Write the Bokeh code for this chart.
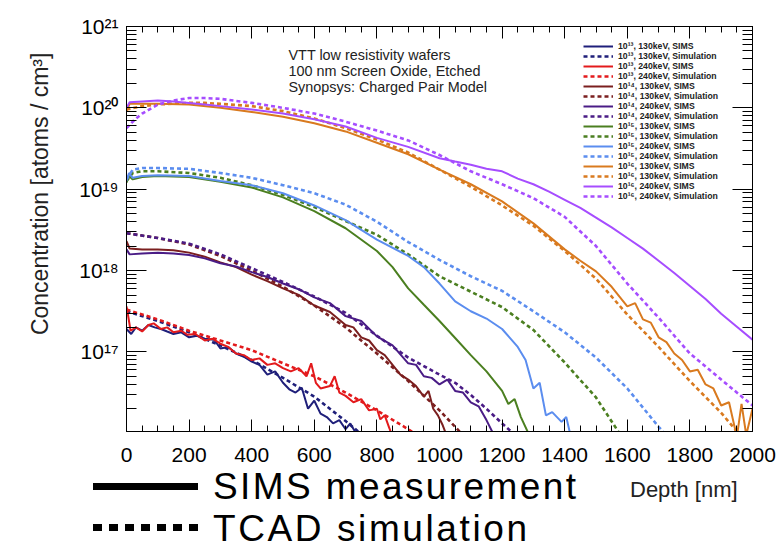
from bokeh.plotting import figure
from bokeh.layouts import column
from bokeh.models import (Range1d, LogTicker, SingleIntervalTicker, LinearAxis, LogAxis, Div,
                          Label, Legend, LegendItem, CustomJSTickFormatter, ColumnDataSource)
from bokeh.embed import file_html
from bokeh.resources import INLINE

# ---------------- data (depth in nm, concentration in atoms/cm^3) ----------------
depth_13_130_sims = [0, 15, 30, 50, 70, 90, 110, 130, 150, 175, 200, 225, 250, 280, 300, 325, 350, 375,
                     400, 425, 450, 475, 500, 520, 540, 560, 580, 600, 620, 640, 660, 680, 700, 715, 730, 745]
conc_13_130_sims = [1.91e17, 1.66e17, 2.0e17, 1.82e17, 2.14e17, 2.0e17, 1.91e17, 1.78e17, 1.66e17, 1.74e17,
                    1.51e17, 1.58e17, 1.45e17, 1.41e17, 1.10e17, 1.15e17, 9.55e16, 8.71e16, 7.59e16, 6.92e16,
                    5.25e16, 5.75e16, 4.17e16, 3.47e16, 3.16e16, 3.63e16, 2.0e16, 2.51e16, 1.74e16, 1.58e16,
                    1.32e16, 1.45e16, 1.12e16, 1.32e16, 1.05e16, 8.0e15]
depth_13_130_sim = [0, 100, 200, 300, 400, 500, 600, 700, 760]
conc_13_130_sim = [3.16e17, 2.40e17, 1.74e17, 1.20e17, 7.94e16, 4.79e16, 2.82e16, 1.41e16, 9.1e15]

depth_13_240_sims = [0, 5, 13, 30, 50, 70, 87, 110, 130, 150, 175, 195, 220, 250, 275, 300, 325, 350, 375, 400,
                     425, 450, 475, 500, 525, 550, 575, 590, 605, 620, 650, 665, 680, 700, 725, 750, 775, 800,
                     811, 825, 840, 850]
conc_13_240_sims = [3.63e17, 2.82e17, 1.82e17, 2.0e17, 1.78e17, 2.14e17, 2.24e17, 1.91e17, 2.0e17, 1.74e17,
                    1.82e17, 1.62e17, 1.66e17, 1.38e17, 1.45e17, 1.26e17, 1.15e17, 9.55e16, 9.12e16, 7.94e16,
                    8.32e16, 6.92e16, 7.24e16, 6.31e16, 5.75e16, 6.31e16, 5.01e16, 7.24e16, 4.17e16, 3.55e16,
                    3.80e16, 5.01e16, 3.16e16, 2.88e16, 2.40e16, 2.63e16, 1.91e16, 2.0e16, 1.48e16, 1.66e16,
                    1.15e16, 8.9e15]
depth_13_240_sim = [0, 100, 200, 300, 400, 500, 600, 700, 800, 900, 930]
conc_13_240_sim = [3.31e17, 2.51e17, 1.82e17, 1.38e17, 1.05e17, 7.24e16, 5.01e16, 3.16e16, 1.91e16, 1.12e16, 9.3e15]

depth_14_130_sims = [0, 10, 50, 100, 150, 200, 250, 300, 350, 400, 450, 500, 550, 600, 650, 700, 725, 750, 775,
                     800, 825, 850, 875, 900, 925, 950, 965, 980, 995, 1010, 1025]
conc_14_130_sims = [2.29e18, 1.86e18, 1.82e18, 1.82e18, 1.78e18, 1.66e18, 1.48e18, 1.26e18, 1.10e18, 8.91e17,
                    7.41e17, 6.03e17, 5.01e17, 3.72e17, 3.09e17, 2.14e17, 2.0e17, 1.51e17, 1.38e17, 1.05e17,
                    9.12e16, 6.92e16, 5.25e16, 4.57e16, 3.80e16, 2.82e16, 3.31e16, 2.0e16, 1.66e16, 1.26e16, 8.9e15]
depth_14_130_sim = [0, 100, 200, 300, 400, 500, 600, 700, 800, 900, 1000, 1075]
conc_14_130_sim = [2.88e18, 2.51e18, 2.09e18, 1.51e18, 1.00e18, 6.31e17, 3.72e17, 2.0e17, 9.55e16, 4.37e16,
                   1.91e16, 9.5e15]

depth_14_240_sims = [0, 10, 50, 100, 150, 200, 250, 300, 350, 400, 450, 500, 550, 600, 650, 700, 750, 800, 850,
                     900, 925, 950, 975, 1000, 1025, 1050, 1075, 1100, 1125, 1150, 1175]
conc_14_240_sims = [1.82e18, 1.58e18, 1.62e18, 1.66e18, 1.62e18, 1.55e18, 1.41e18, 1.23e18, 1.12e18, 9.55e17,
                    8.32e17, 6.92e17, 5.89e17, 4.68e17, 3.98e17, 2.75e17, 2.40e17, 1.55e17, 1.20e17, 7.24e16,
                    6.92e16, 5.01e16, 4.79e16, 3.98e16, 4.57e16, 3.31e16, 3.16e16, 2.40e16, 2.14e16, 1.45e16, 9.3e15]
depth_14_240_sim = [0, 100, 200, 300, 400, 500, 600, 700, 800, 900, 1000, 1050, 1100, 1150, 1200, 1250]
conc_14_240_sim = [2.88e18, 2.51e18, 2.14e18, 1.58e18, 1.07e18, 7.24e17, 4.79e17, 3.02e17, 1.58e17, 8.51e16,
                   5.25e16, 4.17e16, 2.95e16, 2.0e16, 1.32e16, 8.9e15]

depth_15_130_sims = [0, 8, 20, 50, 100, 200, 300, 400, 500, 600, 700, 800, 850, 900, 950, 1000, 1050, 1100,
                     1150, 1200, 1220, 1240, 1260, 1290]
conc_15_130_sims = [1.20e19, 1.45e19, 1.32e19, 1.41e19, 1.45e19, 1.41e19, 1.23e19, 1.05e19, 7.94e18, 5.37e18,
                    3.31e18, 1.74e18, 1.10e18, 6.03e17, 3.80e17, 2.40e17, 1.48e17, 9.12e16, 5.75e16, 3.31e16,
                    2.29e16, 2.63e16, 1.58e16, 8.9e15]
depth_15_130_sim = [0, 20, 50, 100, 200, 300, 400, 500, 600, 700, 800, 900, 1000, 1100, 1200, 1300, 1400, 1500, 1580]
conc_15_130_sim = [1.26e19, 1.58e19, 1.66e19, 1.66e19, 1.58e19, 1.38e19, 1.12e19, 8.51e18, 6.03e18, 4.07e18,
                   2.75e18, 1.58e18, 8.51e17, 5.50e17, 3.55e17, 1.86e17, 7.41e16, 2.75e16, 9.3e15]

depth_15_240_sims = [0, 8, 20, 50, 100, 200, 300, 400, 500, 600, 700, 800, 900, 950, 1000, 1050, 1100, 1150,
                     1200, 1250, 1275, 1300, 1320, 1340, 1360, 1390, 1405, 1420]
conc_15_240_sims = [1.26e19, 1.58e19, 1.38e19, 1.45e19, 1.48e19, 1.45e19, 1.26e19, 1.12e19, 8.91e18, 6.31e18,
                    4.17e18, 2.40e18, 1.51e18, 1.10e18, 6.92e17, 4.17e17, 3.16e17, 2.57e17, 1.91e17, 1.15e17,
                    7.94e16, 3.55e16, 4.17e16, 1.66e16, 1.82e16, 1.38e16, 1.58e16, 8.9e15]
depth_15_240_sim = [0, 20, 50, 100, 200, 300, 400, 500, 600, 700, 800, 900, 1000, 1100, 1200, 1300, 1400, 1500,
                    1600, 1700, 1730]
conc_15_240_sim = [1.32e19, 1.74e19, 1.82e19, 1.82e19, 1.78e19, 1.58e19, 1.38e19, 1.12e19, 8.91e18, 6.46e18,
                   3.98e18, 2.24e18, 1.35e18, 8.51e17, 5.62e17, 3.16e17, 1.74e17, 8.51e16, 3.55e16, 1.20e16, 8.9e15]

depth_16_130_sims = [0, 10, 50, 100, 200, 300, 400, 500, 600, 700, 800, 900, 1000, 1100, 1200, 1300, 1400, 1450,
                     1500, 1550, 1600, 1625, 1650, 1675, 1700, 1725, 1750, 1775, 1800, 1825, 1850, 1875, 1900,
                     1925, 1950, 1965, 1980, 2000]
conc_16_130_sims = [9.12e19, 1.12e20, 1.12e20, 1.12e20, 1.10e20, 1.00e20, 8.91e19, 7.76e19, 6.46e19, 5.13e19,
                    3.72e19, 2.69e19, 1.74e19, 1.15e19, 7.08e18, 3.80e18, 1.82e18, 1.32e18, 9.77e17, 6.31e17,
                    3.63e17, 3.98e17, 2.51e17, 2.29e17, 1.51e17, 1.32e17, 9.55e16, 7.94e16, 5.75e16, 6.03e16,
                    3.98e16, 3.55e16, 2.19e16, 2.40e16, 9.0e15, 2.29e16, 9.5e15, 2.0e16]
depth_16_130_sim = [0, 50, 100, 200, 250, 300, 400, 500, 600, 700, 800, 900, 1000, 1100, 1200, 1300, 1400, 1500,
                    1600, 1700, 1800, 1900, 1960]
conc_16_130_sim = [9.55e19, 1.05e20, 1.10e20, 1.15e20, 1.15e20, 1.12e20, 1.05e20, 9.12e19, 7.41e19, 5.62e19,
                   4.07e19, 2.82e19, 1.74e19, 1.07e19, 6.31e18, 3.55e18, 1.74e18, 7.94e17, 2.88e17, 1.15e17,
                   4.37e16, 1.78e16, 9.5e15]

depth_16_240_sims = [0, 10, 50, 100, 150, 200, 250, 300, 400, 500, 600, 700, 800, 900, 1000, 1050, 1100, 1150,
                     1200, 1250, 1300, 1350, 1400, 1450, 1500, 1550, 1600, 1650, 1700, 1750, 1800, 1850, 1900,
                     1950, 2000]
conc_16_240_sims = [1.00e20, 1.17e20, 1.20e20, 1.23e20, 1.20e20, 1.15e20, 1.10e20, 1.05e20, 9.55e19, 8.51e19,
                    7.24e19, 5.89e19, 4.27e19, 3.31e19, 2.40e19, 2.19e19, 2.0e19, 1.78e19, 1.66e19, 1.35e19,
                    1.15e19, 9.33e18, 7.41e18, 5.89e18, 4.47e18, 3.39e18, 2.51e18, 1.86e18, 1.32e18, 9.33e17,
                    6.46e17, 4.47e17, 2.95e17, 2.04e17, 1.41e17]
depth_16_240_sim = [0, 25, 50, 100, 150, 200, 250, 300, 400, 500, 600, 700, 800, 900, 1000, 1100, 1200, 1300,
                    1400, 1500, 1600, 1700, 1800, 1900, 2000]
conc_16_240_sim = [5.62e19, 7.08e19, 8.51e19, 1.10e20, 1.23e20, 1.32e20, 1.32e20, 1.29e20, 1.15e20, 1.00e20,
                   8.51e19, 6.76e19, 5.25e19, 3.98e19, 2.63e19, 1.66e19, 1.15e19, 7.76e18, 4.57e18, 2.0e18,
                   6.92e17, 2.63e17, 9.55e16, 4.57e16, 2.19e16]

series_labels = ["10¹³, 130keV, SIMS", "10¹³, 130keV, Simulation",
                 "10¹³, 240keV, SIMS", "10¹³, 240keV, Simulation",
                 "10¹⁴, 130keV, SIMS", "10¹⁴, 130keV, Simulation",
                 "10¹⁴, 240keV, SIMS", "10¹⁴, 240keV, Simulation",
                 "10¹⁵, 130keV, SIMS", "10¹⁵, 130keV, Simulation",
                 "10¹⁵, 240keV, SIMS", "10¹⁵, 240keV, Simulation",
                 "10¹⁶, 130keV, SIMS", "10¹⁶, 130keV, Simulation",
                 "10¹⁶, 240keV, SIMS", "10¹⁶, 240keV, Simulation"]
series_depths = [depth_13_130_sims, depth_13_130_sim, depth_13_240_sims, depth_13_240_sim,
                 depth_14_130_sims, depth_14_130_sim, depth_14_240_sims, depth_14_240_sim,
                 depth_15_130_sims, depth_15_130_sim, depth_15_240_sims, depth_15_240_sim,
                 depth_16_130_sims, depth_16_130_sim, depth_16_240_sims, depth_16_240_sim]
series_concs = [conc_13_130_sims, conc_13_130_sim, conc_13_240_sims, conc_13_240_sim,
                conc_14_130_sims, conc_14_130_sim, conc_14_240_sims, conc_14_240_sim,
                conc_15_130_sims, conc_15_130_sim, conc_15_240_sims, conc_15_240_sim,
                conc_16_130_sims, conc_16_130_sim, conc_16_240_sims, conc_16_240_sim]
group_colors = ["#1f1f7a", "#e31a1c", "#7b1f1f", "#4a1c86", "#4b7f20", "#5b8def", "#d97a1f", "#a64dff"]

annotation_lines = ["VTT low resistivity wafers", "100 nm Screen Oxide, Etched", "Synopsys: Charged Pair Model"]
y_title = "Concentration [atoms / cm³]"
x_title = "Depth [nm]"
key_labels = ["SIMS measurement", "TCAD simulation"]

FONT = "Liberation Sans"

# ---------------- main figure ----------------
p = figure(width=784, height=471, output_backend="svg", toolbar_location=None,
           y_axis_type="log", x_range=Range1d(0, 2000), y_range=Range1d(1.05e16, 1e21),
           min_border_left=126, min_border_right=32, min_border_top=26, min_border_bottom=40)
p.xgrid.visible = False
p.ygrid.visible = False
p.outline_line_color = "black"
p.outline_line_width = 1

sup = CustomJSTickFormatter(code="""
const s = {"0":"\u2070","1":"\u00b9","2":"\u00b2","3":"\u00b3","4":"\u2074","5":"\u2075","6":"\u2076","7":"\u2077","8":"\u2078","9":"\u2079","-":"\u207b"};
const e = Math.round(Math.log10(tick));
return "10" + String(e).split("").map(c => s[c]).join("");
""")
blank = CustomJSTickFormatter(code="return '';")

for ax in p.xaxis:
    ax.ticker = SingleIntervalTicker(interval=200, num_minor_ticks=4)
    ax.major_tick_in = 12
    ax.major_tick_out = 0
    ax.minor_tick_in = 6
    ax.minor_tick_out = 0
    ax.major_label_text_font = FONT
    ax.major_label_text_font_size = "21px"
    ax.major_label_text_color = "black"
    ax.major_label_standoff = 16
    ax.axis_line_color = "black"

for ax in p.yaxis:
    ax.ticker = LogTicker(num_minor_ticks=10)
    ax.formatter = sup
    ax.major_tick_in = 20
    ax.major_tick_out = 0
    ax.minor_tick_in = 10
    ax.minor_tick_out = 0
    ax.major_label_text_font = FONT
    ax.major_label_text_font_size = "21px"
    ax.major_label_text_color = "black"
    ax.major_label_standoff = 8
    ax.axis_line_color = "black"
    # leading no-break spaces push the rotated title upward, as in the reference
    ax.axis_label = "\u00a0" * 11 + y_title
    ax.axis_label_text_font = FONT
    ax.axis_label_text_font_size = "23px"
    ax.axis_label_text_font_style = "normal"
    ax.axis_label_text_color = "#222222"
    ax.axis_label_standoff = 23

top_ax = LinearAxis(ticker=SingleIntervalTicker(interval=200, num_minor_ticks=4), formatter=blank,
                    major_label_text_font_size="8px", major_tick_in=12, major_tick_out=0,
                    minor_tick_in=6, minor_tick_out=0, major_label_standoff=0)
p.add_layout(top_ax, "above")
right_ax = LogAxis(ticker=LogTicker(num_minor_ticks=10), formatter=blank, major_label_text_font_size="8px",
                   major_tick_in=20, major_tick_out=0, minor_tick_in=10, minor_tick_out=0,
                   major_label_standoff=0)
p.add_layout(right_ax, "right")

items = []
for i, (lab, xs, ys) in enumerate(zip(series_labels, series_depths, series_concs)):
    col = group_colors[i // 2]
    src = ColumnDataSource(dict(x=xs, y=ys))
    if i % 2 == 0:
        r = p.line("x", "y", source=src, line_color=col, line_width=2)
    else:
        r = p.line("x", "y", source=src, line_color=col, line_width=2.6, line_dash="4 3")
    items.append(LegendItem(label=lab, renderers=[r]))

leg = Legend(items=items, location=(457, 230), padding=0, margin=0, spacing=0,
             glyph_width=30, glyph_height=10, label_height=10, label_standoff=5,
             label_text_font=FONT, label_text_font_size="8.7px", label_text_font_style="bold",
             label_text_color="#222222", background_fill_alpha=0, border_line_alpha=0)
p.add_layout(leg, "center")

for k, t in enumerate(annotation_lines):
    p.add_layout(Label(x=162, y=377 - 16 * k, x_units="screen", y_units="screen", text=t,
                       text_font=FONT, text_font_size="14.4px", text_color="#222222",
                       text_baseline="alphabetic"))

# ---------------- key strip under the plot ----------------
strip_html = f"""
<div style="position:relative;width:784px;height:78px;overflow:visible;color:#000;">
  <div style="position:absolute;left:93px;top:11.5px;width:105px;height:7px;background:#000;"></div>
  <div style="position:absolute;left:93px;top:52.5px;width:105px;height:7px;
       background:repeating-linear-gradient(to right,#000 0px,#000 9px,rgba(0,0,0,0) 9px,rgba(0,0,0,0) 16px);"></div>
  <span style="position:absolute;left:213px;top:-3.3px;font-family:'Liberation Sans';font-size:37px;line-height:37px;letter-spacing:2.4px;white-space:nowrap;">{key_labels[0]}</span>
  <span style="position:absolute;left:213px;top:38.7px;font-family:'Liberation Sans';font-size:37px;line-height:37px;letter-spacing:2.6px;white-space:nowrap;">{key_labels[1]}</span>
  <span style="position:absolute;left:630px;top:7.5px;font-family:'Liberation Sans';font-size:22px;line-height:22px;white-space:nowrap;color:#222;">{x_title}</span>
</div>
"""
strip = Div(text=strip_html, width=784, height=78, styles={"margin": "0", "padding": "0"})

layout = column(p, strip, spacing=0)
open("out.html", "w").write(file_html(layout, INLINE))
